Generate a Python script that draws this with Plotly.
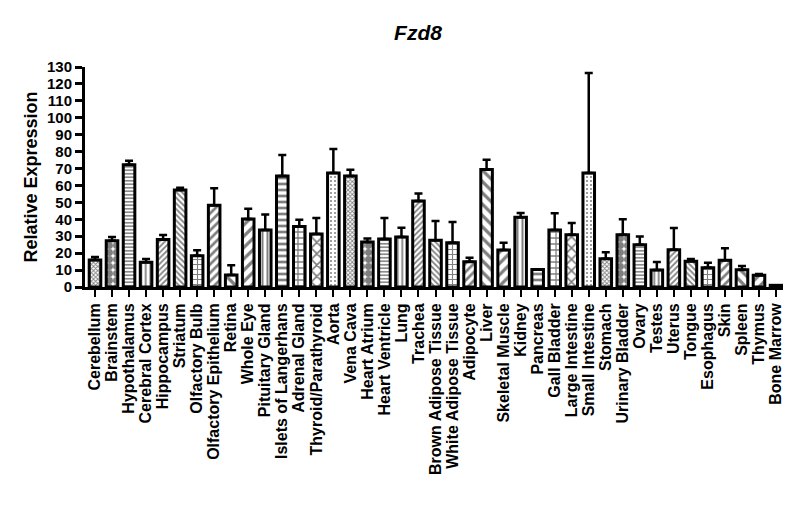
import plotly.graph_objects as go

tissues = ["Cerebellum", "Brainstem", "Hypothalamus", "Cerebral Cortex", "Hippocampus",
           "Striatum", "Olfactory Bulb", "Olfactory Epithelium", "Retina", "Whole Eye",
           "Pituitary Gland", "Islets of Langerhans", "Adrenal Gland", "Thyroid/Parathyroid",
           "Aorta", "Vena Cava", "Heart Atrium", "Heart Ventricle", "Lung", "Trachea",
           "Brown Adipose Tissue", "White Adipose Tissue", "Adipocyte", "Liver",
           "Skeletal Muscle", "Kidney", "Pancreas", "Gall Bladder", "Large Intestine",
           "Small Intestine", "Stomach", "Urinary Bladder", "Ovary", "Testes", "Uterus",
           "Tongue", "Esophagus", "Skin", "Spleen", "Thymus", "Bone Marrow"]

expression = [16.0, 27.4, 72.3, 14.6, 28.0, 57.3, 18.5, 48.3, 7.1, 40.2,
              33.7, 65.6, 35.8, 31.3, 67.4, 65.6, 26.6, 28.4, 29.5, 50.8,
              27.6, 26.2, 14.9, 69.5, 21.9, 41.2, 10.4, 33.7, 30.9, 67.4,
              16.7, 30.9, 25.0, 10.0, 22.0, 15.2, 11.4, 15.8, 10.2, 6.9, 1.0]

sem = [1.7, 2.1, 2.3, 1.9, 2.7, 1.4, 3.2, 10.0, 5.7, 6.1,
       9.2, 12.4, 4.0, 9.5, 14.2, 3.7, 2.1, 12.4, 5.5, 4.4,
       11.4, 12.2, 2.4, 5.7, 4.3, 2.6, 0.0, 9.9, 6.9, 59.1,
       3.8, 9.1, 4.9, 4.8, 12.9, 1.4, 3.0, 7.1, 2.2, 0.8, 0.0]

# pattern cycle (shape, size, solidity) repeating every 15 bars
pattern_cycle = [
    ("x", 3, 0.5),
    (".", 7, 0.75),
    ("-", 3.5, 0.45),
    ("|", 4.5, 0.4),
    ("/", 4, 0.45),
    ("\\", 4, 0.45),
    ("+", 5, 0.4),
    ("/", 6, 0.45),
    ("\\", 8, 0.4),
    ("/", 8, 0.4),
    ("|", 5, 0.4),
    ("-", 6, 0.45),
    ("+", 6, 0.38),
    ("x", 8, 0.38),
    (".", 4, 0.2),
]

shapes = [pattern_cycle[i % 15][0] for i in range(len(tissues))]
psizes = [pattern_cycle[i % 15][1] for i in range(len(tissues))]
solid = [pattern_cycle[i % 15][2] for i in range(len(tissues))]

FONT = "Liberation Sans, Arial, sans-serif"

fig = go.Figure(go.Bar(
    x=tissues,
    y=expression,
    width=0.68,
    marker=dict(
        color="white",
        line=dict(color="black", width=3),
        pattern=dict(shape=shapes, size=psizes, solidity=solid,
                     fgcolor="black", bgcolor="white", fillmode="overlay"),
    ),
    error_y=dict(type="data", array=sem, arrayminus=[0] * len(sem), symmetric=False,
                 color="black", thickness=2.5, width=4),
))

fig.update_layout(
    width=800, height=528,
    paper_bgcolor="white", plot_bgcolor="white",
    margin=dict(l=77, r=25, t=59, b=249),
    showlegend=False,
    font=dict(family=FONT, color="black"),
    title=dict(text="<b><i>Fzd8</i></b>", x=0.5125, xanchor="center", y=0.9527, yanchor="middle",
               font=dict(size=21, family=FONT, color="black")),
)

fig.update_xaxes(
    type="category",
    tickmode="array", tickvals=tissues, ticktext=tissues,
    range=[-0.587, 40.41],
    automargin=False,
    showline=True, linecolor="black", linewidth=3,
    ticks="outside", ticklen=7, tickwidth=2, tickcolor="black",
    tickangle=-90,
    tickfont=dict(size=16, family=FONT, color="black", weight="bold"),
    showgrid=False, zeroline=False,
)

fig.update_yaxes(
    range=[0, 130],
    automargin=False,
    tickmode="linear", tick0=0, dtick=10,
    showline=True, linecolor="black", linewidth=3,
    ticks="outside", ticklen=7, tickwidth=2.5, tickcolor="black",
    tickfont=dict(size=15, family=FONT, color="black", weight="bold"),
    title=dict(text="<b>Relative Expression</b>", font=dict(size=18, family=FONT, color="black"),
               standoff=5),
    showgrid=False, zeroline=False,
)

fig.write_html("out.html")
